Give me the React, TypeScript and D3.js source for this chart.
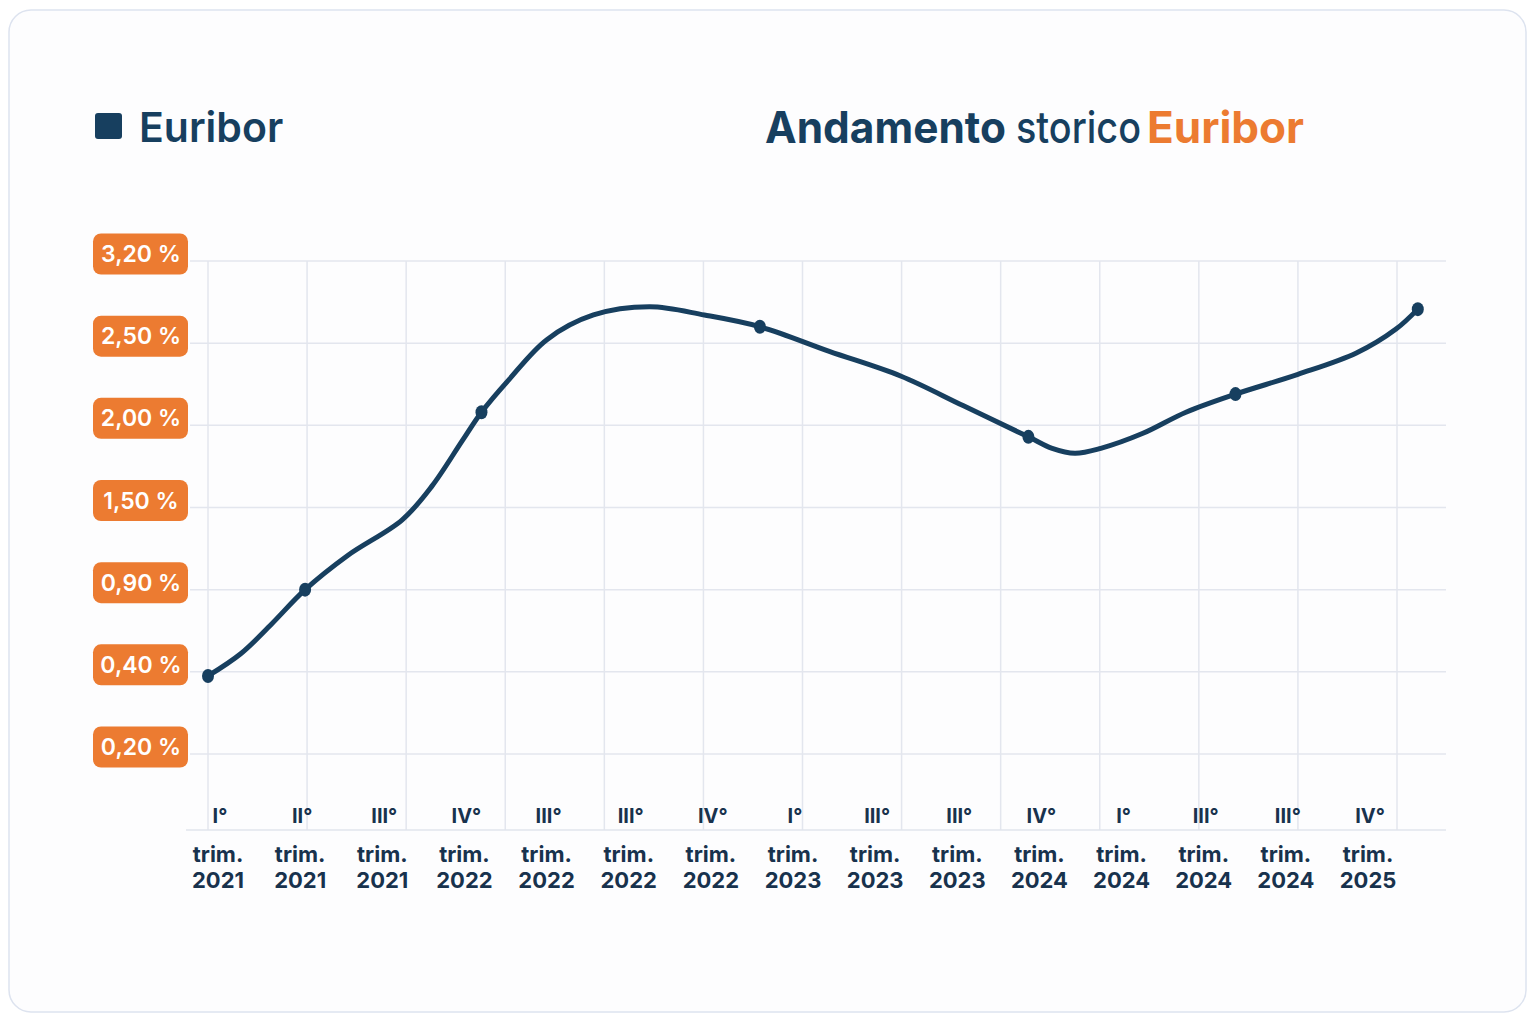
import React, { useEffect, useRef } from "react";
import * as d3 from "d3";

const W = 1536;
const H = 1024;

// y axis steps (evenly spaced on screen, not linear in value)
const yTicks = [3.2, 2.5, 2.0, 1.5, 0.9, 0.4, 0.2];
const yTickLabels = ["3,20 %", "2,50 %", "2,00 %", "1,50 %", "0,90 %", "0,40 %", "0,20 %"];

// bottom axis labels
const quarterLabels = ["I°", "II°", "III°", "IV°", "III°", "III°", "IV°", "I°", "III°", "III°", "IV°", "I°", "III°", "III°", "IV°"];
const yearLabels = ["2021", "2021", "2021", "2022", "2022", "2022", "2022", "2023", "2023", "2023", "2024", "2024", "2024", "2024", "2025"];

// curve samples: position in quarters from the first grid line, and rate in %
const curveQuarter = [0, 0.33, 0.64, 0.98, 1.41, 1.96, 2.26, 2.57, 2.76, 3.04, 3.42, 3.89, 4.46, 5.01, 5.57, 6.27, 6.99, 7.62, 8.28, 8.52, 8.75, 9.01, 9.43, 9.87, 10.37, 11.0, 11.59, 11.99, 12.21];
const curveRate = [0.39, 0.51, 0.69, 0.9, 1.15, 1.41, 1.63, 1.91, 2.08, 2.28, 2.53, 2.74, 2.81, 2.74, 2.64, 2.45, 2.3, 2.12, 1.93, 1.86, 1.83, 1.86, 1.95, 2.08, 2.19, 2.31, 2.44, 2.62, 2.79];
// samples that carry a dot
const markerIdx = [0, 3, 8, 14, 18, 24, 28];

const NAVY = "#173f5f";
const ORANGE = "#ec7b31";
const GRID = "#e3e6ee";
const FONT = "Inter, 'Open Sans', sans-serif";

function EuriborChart() {
  const ref = useRef<SVGSVGElement | null>(null);

  useEffect(() => {
    const svg = d3.select(ref.current);
    svg.selectAll("*").remove();

    // card
    svg.append("rect")
      .attr("x", 9).attr("y", 10)
      .attr("width", 1517).attr("height", 1002)
      .attr("rx", 22)
      .attr("fill", "#fdfdfe")
      .attr("stroke", "#dde3ef")
      .attr("stroke-width", 1.5);

    // legend
    svg.append("rect")
      .attr("x", 95).attr("y", 113)
      .attr("width", 27).attr("height", 26)
      .attr("rx", 3)
      .attr("fill", NAVY);
    svg.append("text")
      .attr("x", 139).attr("y", 142)
      .attr("font-family", FONT)
      .attr("font-size", 41)
      .attr("font-weight", 600)
      .attr("fill", NAVY)
      .text("Euribor");

    // title
    const title = [
      { t: "Andamento", x: 765, w: 241, weight: 700, c: NAVY },
      { t: "storico", x: 1016, w: 125, weight: 500, c: NAVY },
      { t: "Euribor", x: 1147, w: 157, weight: 700, c: ORANGE },
    ];
    title.forEach(p => {
      svg.append("text")
        .attr("x", p.x).attr("y", 143)
        .attr("font-family", FONT)
        .attr("font-size", 44)
        .attr("font-weight", p.weight)
        .attr("fill", p.c)
        .attr("textLength", p.w)
        .attr("lengthAdjust", "spacingAndGlyphs")
        .text(p.t);
    });

    // SCALES
    const xScale = d3.scaleLinear().domain([0, 12]).range([208, 1397]);
    const yPos = d3.scalePoint<string>().domain(yTickLabels).range([261, 754]);
    const yScale = d3.scaleLinear()
      .domain(yTicks)
      .range(yTickLabels.map(l => yPos(l) as number));
    const xLabel = d3.scalePoint<number>()
      .domain(d3.range(quarterLabels.length))
      .range([218, 1368]);

    const axisY = 830;

    // grid
    const grid = svg.append("g").attr("stroke", GRID).attr("stroke-width", 1.5);
    grid.selectAll("line.h")
      .data(yTickLabels)
      .enter()
      .append("line")
      .attr("class", "h")
      .attr("x1", 190).attr("x2", 1446)
      .attr("y1", d => yPos(d) as number)
      .attr("y2", d => yPos(d) as number);
    grid.selectAll("line.v")
      .data(d3.range(13))
      .enter()
      .append("line")
      .attr("class", "v")
      .attr("x1", d => xScale(d)).attr("x2", d => xScale(d))
      .attr("y1", yPos(yTickLabels[0]) as number)
      .attr("y2", axisY);
    svg.append("line")
      .attr("x1", 186).attr("x2", 1446)
      .attr("y1", axisY).attr("y2", axisY)
      .attr("stroke", "#e1e4ec")
      .attr("stroke-width", 1.5);

    // y badges
    const badges = svg.append("g")
      .selectAll("g")
      .data(yTickLabels)
      .enter()
      .append("g")
      .attr("transform", d => `translate(93, ${(yPos(d) as number) - 7})`);
    badges.append("rect")
      .attr("x", 0).attr("y", -20.5)
      .attr("width", 95).attr("height", 41)
      .attr("rx", 8)
      .attr("fill", ORANGE);
    badges.append("text")
      .attr("x", 48).attr("y", 8)
      .attr("text-anchor", "middle")
      .attr("font-family", FONT)
      .attr("font-size", 23)
      .attr("font-weight", 600)
      .attr("fill", "#fff")
      .text(d => d);

    // x labels
    const xl = svg.append("g")
      .attr("font-family", FONT)
      .attr("font-weight", 700)
      .attr("fill", "#18324d")
      .attr("text-anchor", "middle")
      .selectAll("g")
      .data(d3.range(quarterLabels.length))
      .enter()
      .append("g")
      .attr("transform", i => `translate(${xLabel(i)}, 0)`);
    xl.append("text").attr("y", 823).attr("font-size", 20).attr("dx", 2).text(i => quarterLabels[i]);
    xl.append("text").attr("y", 862).attr("font-size", 22).text("trim.");
    xl.append("text").attr("y", 888).attr("font-size", 22).text(i => yearLabels[i]);

    // line
    const pts = curveQuarter.map((q, i) => [xScale(q), yScale(curveRate[i])] as [number, number]);
    const line = d3.line().curve(d3.curveCatmullRom.alpha(0.5));
    svg.append("path")
      .attr("d", line(pts))
      .attr("fill", "none")
      .attr("stroke", NAVY)
      .attr("stroke-width", 5)
      .attr("stroke-linecap", "round")
      .attr("stroke-linejoin", "round");

    svg.selectAll("ellipse.dot")
      .data(markerIdx)
      .enter()
      .append("ellipse")
      .attr("class", "dot")
      .attr("cx", i => pts[i][0])
      .attr("cy", i => pts[i][1])
      .attr("rx", 6)
      .attr("ry", 7)
      .attr("fill", NAVY);
  }, []);

  return (
    <svg
      ref={ref}
      width={W}
      height={H}
      style={{ position: "absolute", left: 0, top: 0, background: "#ffffff" }}
    />
  );
}

export default function App() {
  return <EuriborChart />;
}
